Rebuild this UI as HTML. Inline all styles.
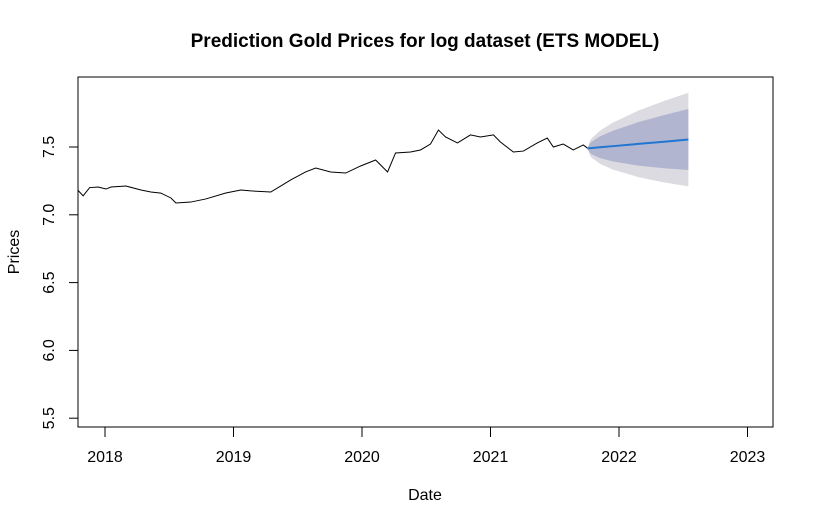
<!DOCTYPE html>
<html><head><meta charset="utf-8"><style>
body{margin:0;background:#fff}
svg{display:block;font-family:"Liberation Sans",Arial,sans-serif}
</style></head><body>
<svg id="chart" width="814" height="525">
<text x="425" y="47" font-size="19" font-weight="bold" text-anchor="middle">Prediction Gold Prices for log dataset (ETS MODEL)</text>
<text x="425" y="500" font-size="16" text-anchor="middle">Date</text>
<text x="19" y="252" font-size="16" text-anchor="middle" transform="rotate(-90 19 252)">Prices</text>
<g id="plot"></g>
</svg>
<script>
const years=[2017.79,2017.83,2017.88,2017.946,2018.008,2018.047,2018.163,2018.28,2018.357,2018.435,2018.513,2018.552,2018.668,2018.785,2018.94,2019.057,2019.134,2019.29,2019.367,2019.445,2019.561,2019.64,2019.756,2019.873,2019.989,2020.106,2020.199,2020.261,2020.378,2020.455,2020.533,2020.595,2020.65,2020.743,2020.844,2020.922,2021.023,2021.077,2021.178,2021.256,2021.364,2021.442,2021.489,2021.566,2021.644,2021.722,2021.753];
const prices=[7.18,7.14,7.2,7.205,7.19,7.205,7.212,7.183,7.168,7.160,7.124,7.087,7.094,7.117,7.161,7.183,7.176,7.168,7.212,7.257,7.316,7.345,7.316,7.308,7.36,7.404,7.316,7.456,7.463,7.478,7.522,7.625,7.574,7.53,7.589,7.574,7.589,7.537,7.463,7.47,7.53,7.566,7.5,7.522,7.478,7.515,7.493];
const fYears=[2021.753,2021.78,2021.85,2021.95,2022.15,2022.35,2022.54];
const fMean=[7.490,7.492,7.498,7.506,7.523,7.539,7.555];
const fHi80=[7.490,7.535,7.577,7.619,7.683,7.735,7.780];
const fLo80=[7.490,7.449,7.419,7.394,7.363,7.343,7.330];
const fHi95=[7.490,7.558,7.619,7.679,7.768,7.839,7.900];
const fLo95=[7.490,7.426,7.377,7.334,7.278,7.239,7.210];
const xTicks=[2018,2019,2020,2021,2022,2023];
const yTicks=[5.5,6.0,6.5,7.0,7.5];

const X=y=>105+(y-2018)*128.5;
const Y=v=>147-(v-7.5)*135.6;
const NS='http://www.w3.org/2000/svg';
const g=document.getElementById('plot');
function mk(t,a){const e=document.createElementNS(NS,t);for(const k in a)e.setAttribute(k,a[k]);g.appendChild(e);return e;}
function band(hi,lo,fill,name){
 let pts=fYears.map((y,i)=>X(y)+','+Y(hi[i]));
 for(let i=fYears.length-1;i>=0;i--)pts.push(X(fYears[i])+','+Y(lo[i]));
 const p=mk('polygon',{points:pts.join(' '),fill:fill});
 
 
}
band(fHi95,fLo95,'#dbdbe1','band-95');
band(fHi80,fLo80,'#b1b5d0','band-80');
const l=mk('polyline',{points:years.map((y,i)=>X(y)+','+Y(prices[i])).join(' '),fill:'none',stroke:'#000','stroke-width':1});


const f=mk('polyline',{points:fYears.map((y,i)=>X(y)+','+Y(fMean[i])).join(' '),fill:'none',stroke:'#2176d2','stroke-width':2});


const box=mk('rect',{x:78,y:77,width:695,height:350,fill:'none',stroke:'#000','stroke-width':1});


xTicks.forEach(t=>{
 const tk=mk('line',{x1:X(t),x2:X(t),y1:427,y2:437,stroke:'#000'});
 
 
 const tx=mk('text',{x:X(t),y:462,'font-size':16,'text-anchor':'middle'});
 tx.textContent=t;
 
 
});
yTicks.forEach(t=>{
 const tk=mk('line',{x1:69,x2:78,y1:Y(t),y2:Y(t),stroke:'#000'});
 
 
 const tx=mk('text',{x:54,y:Y(t),'font-size':16,'text-anchor':'middle',transform:`rotate(-90 54 ${Y(t)})`});
 tx.textContent=t.toFixed(1);
 
 
});
</script>
</body></html>
